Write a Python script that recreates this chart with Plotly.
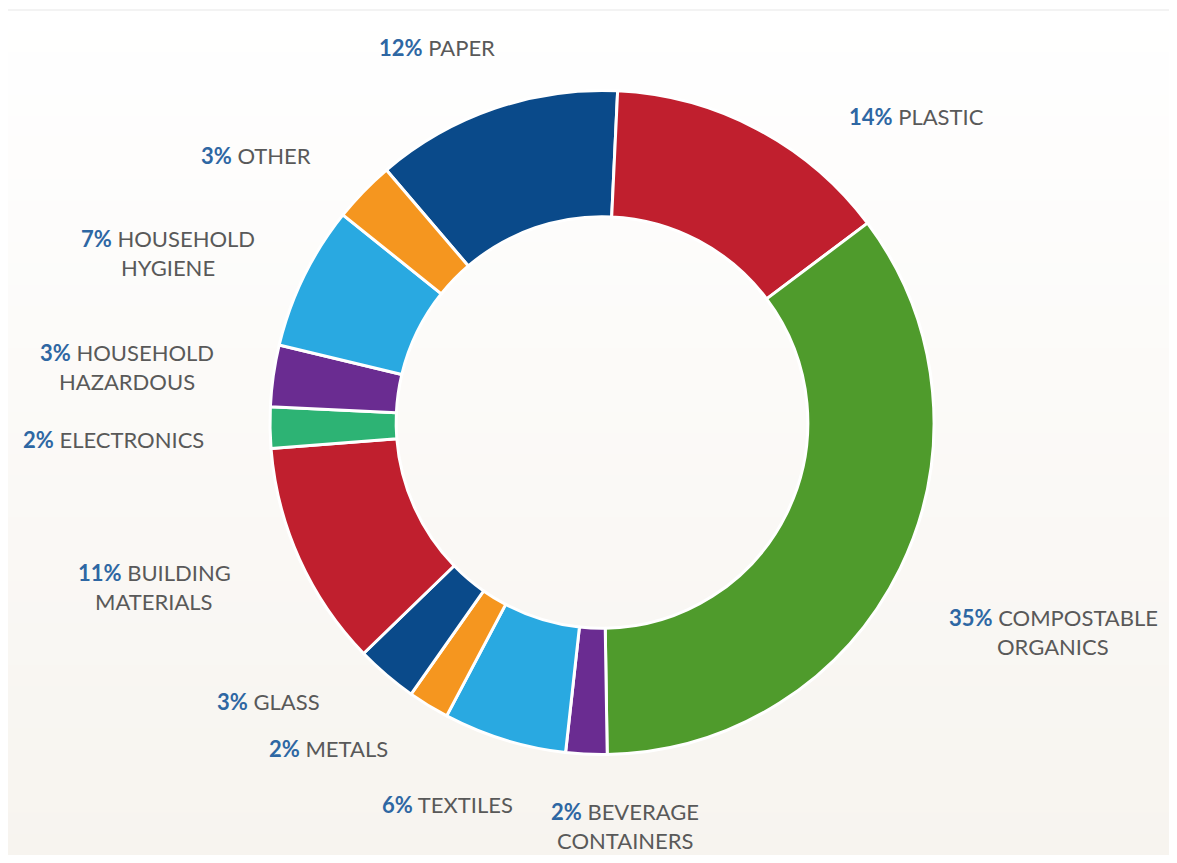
import plotly.graph_objects as go

# ---- data (clockwise from the top-left, starting with Paper) ----
categories = ["PAPER", "PLASTIC", "COMPOSTABLE\nORGANICS", "BEVERAGE\nCONTAINERS", "TEXTILES",
              "METALS", "GLASS", "BUILDING\nMATERIALS", "ELECTRONICS", "HOUSEHOLD\nHAZARDOUS",
              "HOUSEHOLD\nHYGIENE", "OTHER"]
shares = [12, 14, 35, 2, 6, 2, 3, 11, 2, 3, 7, 3]

# ---- styles ----
DARK_BLUE = "#0a4a8a"
RED = "#c01f2e"
GREEN = "#4f9b2c"
PURPLE = "#6a2c91"
LIGHT_BLUE = "#29a9e1"
ORANGE = "#f5961f"
TEAL = "#2db374"
slice_colors = [DARK_BLUE, RED, GREEN, PURPLE, LIGHT_BLUE, ORANGE, DARK_BLUE, RED, TEAL,
                PURPLE, LIGHT_BLUE, ORANGE]

# page has an 8px body margin; figure is sized to fit the window exactly
OFF = 8
W, H = 1177 - 2 * OFF, 863 - 2 * OFF

# label anchor positions (screen pixel centres of first line)
label_pos = [(437, 47), (917, 117), (1053, 617), (625, 811), (447, 804), (328, 748),
             (268, 701), (154, 572), (113, 439), (127, 352), (168, 238), (256, 156)]

FONT = "Lato"
PCT_COLOR = "#2e67a3"
TXT_COLOR = "#595959"
LINE_GAP = 29

fig = go.Figure()

cx, cy, r = 602 - OFF, 422.5 - OFF, 332
fig.add_trace(go.Pie(
    labels=[c.replace("\n", " ") for c in categories],
    values=shares,
    sort=False,
    direction="clockwise",
    rotation=-40.5,
    hole=0.62,
    marker=dict(colors=slice_colors, line=dict(color="white", width=3)),
    textinfo="none",
    hoverinfo="label+percent",
    showlegend=False,
    domain=dict(x=[(cx - r) / W, (cx + r) / W], y=[(H - cy - r) / H, (H - cy + r) / H]),
))

annotations = []
for cat, v, (px, py) in zip(categories, shares, label_pos):
    lines = cat.split("\n")
    for i, line in enumerate(lines):
        if i == 0:
            txt = f"<b><span style='color:{PCT_COLOR}'>{v}%</span></b> {line}"
        else:
            txt = line
        annotations.append(dict(
            x=(px - OFF) / W, y=1 - (py - OFF + i * LINE_GAP) / H, xref="paper", yref="paper",
            text=txt, showarrow=False, xanchor="center", yanchor="middle",
            font=dict(family=FONT, size=22, color=TXT_COLOR),
        ))

# subtle vertical background gradient (white to warm off-white)
shapes = []
n = 40
top, bottom = 2, H
c0 = (255, 255, 255)
c1 = (247, 244, 239)
for k in range(n):
    y0 = top + (bottom - top) * k / n
    y1 = top + (bottom - top) * (k + 1) / n + 1
    t = (k + 0.5) / n
    col = tuple(round(a + (b - a) * t) for a, b in zip(c0, c1))
    shapes.append(dict(type="rect", xref="paper", yref="paper", layer="below",
                       x0=0, x1=1, y0=1 - y1 / H, y1=1 - y0 / H,
                       fillcolor=f"rgb{col}", line=dict(width=0)))
shapes.append(dict(type="line", xref="paper", yref="paper", layer="below",
                   x0=0, x1=1, y0=1 - 2 / H, y1=1 - 2 / H,
                   line=dict(color="#f3f3f3", width=2)))

fig.update_layout(
    width=W, height=H,
    margin=dict(l=0, r=0, t=0, b=0),
    paper_bgcolor="white",
    plot_bgcolor="white",
    annotations=annotations,
    shapes=shapes,
)

fig.write_html("out.html")
